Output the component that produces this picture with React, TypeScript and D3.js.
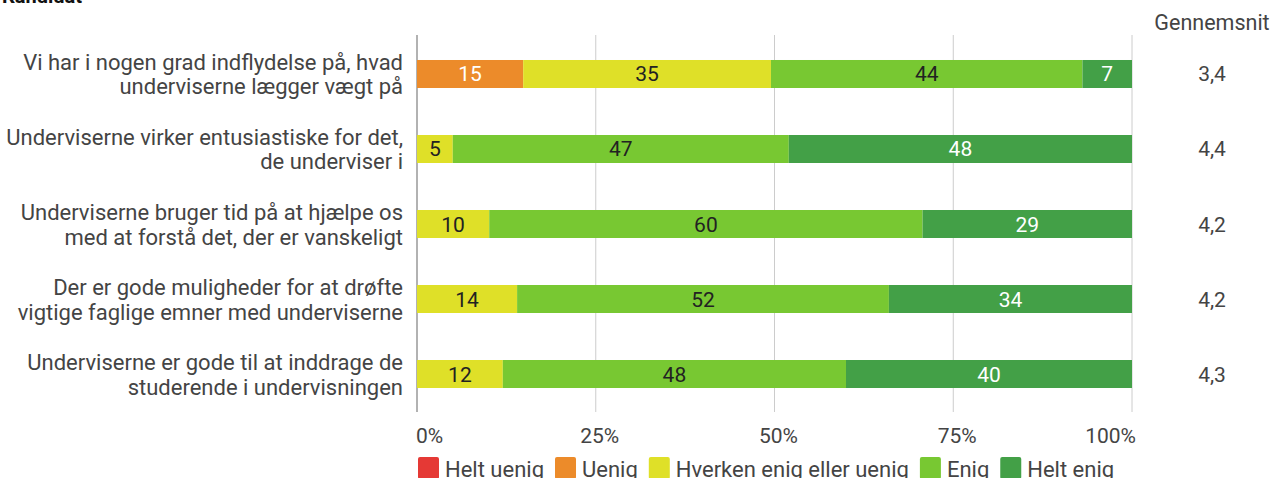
import React from "react";
import { scaleLinear, scaleBand, sum } from "d3";

const width = 1274;
const height = 478;

// data
const questions = [
  ["Vi har i nogen grad indflydelse på, hvad", "underviserne lægger vægt på"],
  ["Underviserne virker entusiastiske for det,", "de underviser i"],
  ["Underviserne bruger tid på at hjælpe os", "med at forstå det, der er vanskeligt"],
  ["Der er gode muligheder for at drøfte", "vigtige faglige emner med underviserne"],
  ["Underviserne er gode til at inddrage de", "studerende i undervisningen"],
];
const responses = ["Helt uenig", "Uenig", "Hverken enig eller uenig", "Enig", "Helt enig"];
const heltUenig = [0, 0, 0, 0, 0];
const uenig = [15, 0, 0, 0, 0];
const hverken = [35, 5, 10, 14, 12];
const enig = [44, 47, 60, 52, 48];
const heltEnig = [7, 48, 29, 34, 40];
const averages = ["3,4", "4,4", "4,2", "4,2", "4,3"];
const ticks = [0, 25, 50, 75, 100];

const colors = ["#e53935", "#ec8b2a", "#dfe028", "#78c832", "#43a047"];
const textColors = ["#fff", "#fff", "#222", "#222", "#fff"];

const series = [heltUenig, uenig, hverken, enig, heltEnig];
const font = "Roboto, 'Noto Sans', sans-serif";

const measure = (txt: string, size: number) => {
  const c = document.createElement("canvas").getContext("2d")!;
  c.font = `${size}px Roboto`;
  return c.measureText(txt).width;
};

export default function App() {
  const x = scaleLinear().domain([0, 100]).range([417, 1132]);
  const y = scaleBand<number>()
    .domain(questions.map((_, i) => i))
    .range([36.5, 411.5])
    .paddingInner(0.6267)
    .paddingOuter(0.3133);
  const bh = y.bandwidth();

  // legend layout
  let lx = 418;
  const legend = responses.map((r, i) => {
    const item = { r, i, x: lx };
    lx += 27 + measure(r, 22) + 11;
    return item;
  });

  return (
    <svg
      width={width}
      height={height}
      style={{ position: "absolute", left: 0, top: 0, fontFamily: font }}
    >
      <rect width={width} height={height} fill="#fff" />
      <text x={2} y={3} fontSize={20} fontWeight="bold" fill="#111">
        Kandidat
      </text>

      {/* grid */}
      {ticks.map((t) => (
        <line
          key={t}
          x1={x(t)}
          x2={x(t)}
          y1={35}
          y2={412}
          stroke={t === 0 ? "#999" : "#ccc"}
          strokeWidth={t === 0 ? 1.5 : 1}
        />
      ))}
      {ticks.map((t, i) => (
        <text
          key={t}
          x={i === 0 ? x(t) - 1 : i === ticks.length - 1 ? x(t) + 4 : x(t) + 4}
          y={443}
          fontSize={21}
          fill="#444"
          textAnchor={i === 0 ? "start" : i === ticks.length - 1 ? "end" : "middle"}
        >
          {t}%
        </text>
      ))}

      {/* bars */}
      {questions.map((q, qi) => {
        const total = sum(series, (s) => s[qi]);
        let acc = 0;
        const y0 = y(qi)!;
        return (
          <g key={qi}>
            {series.map((s, si) => {
              const v = s[qi];
              if (!v) return null;
              const start = (acc / total) * 100;
              acc += v;
              const end = (acc / total) * 100;
              return (
                <g key={si}>
                  <rect
                    x={x(start)}
                    y={y0}
                    width={x(end) - x(start)}
                    height={bh}
                    fill={colors[si]}
                  />
                  <text
                    x={(x(start) + x(end)) / 2}
                    y={y0 + bh / 2 + 7.5}
                    fontSize={21}
                    textAnchor="middle"
                    fill={textColors[si]}
                  >
                    {v}
                  </text>
                </g>
              );
            })}
            {q.map((line, li) => (
              <text
                key={li}
                x={403}
                y={y0 + bh / 2 - 4 + li * 24.5}
                fontSize={22}
                textAnchor="end"
                fill="#444"
              >
                {line}
              </text>
            ))}
            <text
              x={1212}
              y={y0 + bh / 2 + 7.5}
              fontSize={21}
              textAnchor="middle"
              fill="#444"
            >
              {averages[qi]}
            </text>
          </g>
        );
      })}
      <text x={1212} y={30} fontSize={21.5} textAnchor="middle" fill="#444">
        Gennemsnit
      </text>

      {/* legend */}
      {legend.map((l) => (
        <g key={l.r}>
          <rect x={l.x} y={457} width={21} height={22} rx={2} fill={colors[l.i]} />
          <text x={l.x + 27} y={477} fontSize={22} fill="#444">
            {l.r}
          </text>
        </g>
      ))}
    </svg>
  );
}
